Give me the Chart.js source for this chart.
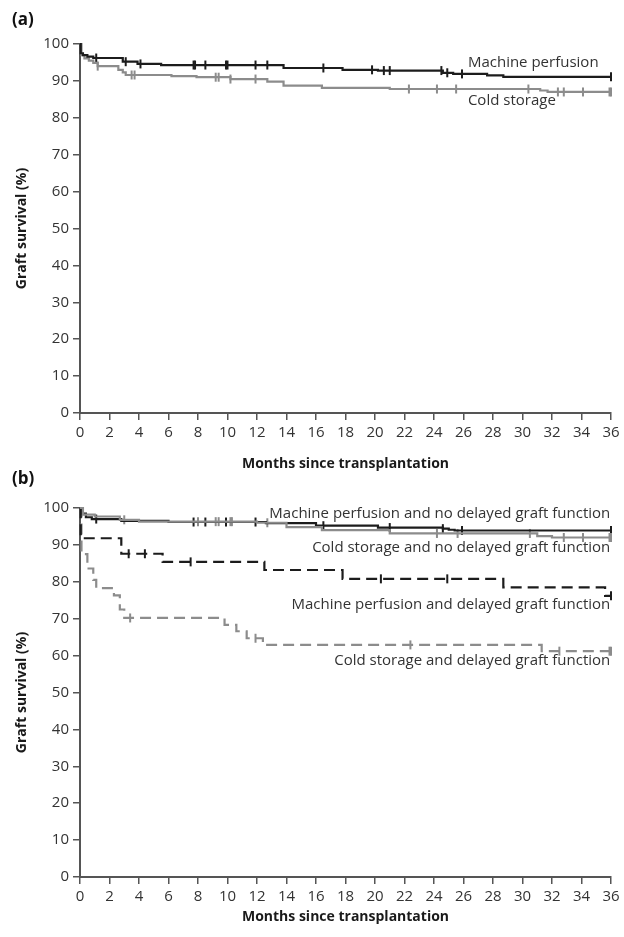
<!DOCTYPE html>
<html><head><meta charset="utf-8">
<script src="https://cdn.jsdelivr.net/npm/chart.js@4.4.1/dist/chart.umd.min.js"></script>
<style>
html,body{margin:0;padding:0;background:#fff;}
#wrap{position:relative;width:624px;height:937px;overflow:hidden;background:#fff}
.box{position:absolute;left:0;width:624px}
.plabel{position:absolute;left:12px;font:bold 17px "Open Sans",sans-serif;color:#111;line-height:20px}
</style></head><body>
<div id="wrap">
<div class="box" style="top:0;height:472px"><canvas id="ca" width="624" height="472"></canvas></div>
<div class="box" style="top:472px;height:465px"><canvas id="cb" width="624" height="465"></canvas></div>
<div class="plabel" style="top:9px">(a)</div>
<div class="plabel" style="top:468px">(b)</div>
</div>
<script>
// ---------- tick labels ----------
const xTickValues = [0,2,4,6,8,10,12,14,16,18,20,22,24,26,28,30,32,34,36];
const yTickValues = [0,10,20,30,40,50,60,70,80,90,100];

// ---------- panel (a) ----------
const mpA_months = [0,0.05,0.2,0.5,0.9,2.9,3.9,5.5,13.8,17.8,20.2,24.6,25.3,27.6,28.7,36];
const mpA_surv   = [100,97.5,97.0,96.6,96.2,95.2,94.6,94.3,93.5,93.0,92.8,92.2,91.9,91.5,91.1,91.1];
const mpA_censor = [1.1,3.1,4.1,7.7,7.8,8.5,9.9,10.0,11.9,12.7,16.5,19.8,20.6,21.0,24.5,24.9,25.9,36];

const csA_months = [0,0.1,0.3,0.6,0.9,1.2,2.6,2.9,3.1,6.2,7.9,10.2,12.7,13.8,16.4,21.0,31.2,31.7,36];
const csA_surv   = [100,97.0,96.1,95.5,94.9,94.0,93.0,92.3,91.6,91.3,91.0,90.5,89.8,88.7,88.1,87.8,87.4,87.0,87.0];
const csA_censor = [1.2,3.5,3.7,9.2,9.4,10.2,11.9,22.3,24.2,25.5,30.4,32.4,32.8,34.1,35.9,36];

const seriesA = ["Machine perfusion","Cold storage"];

// ---------- panel (b) ----------
const mpNo_months = [0,0.1,0.4,0.8,2.8,6.0,12.6,16.0,20.2,24.6,25.0,25.4,36];
const mpNo_surv   = [100,98.5,97.5,97.0,96.5,96.2,95.9,95.2,94.7,94.4,94.1,93.9,93.9];
const mpNo_censor = [1.1,7.7,8.5,9.9,11.9,16.5,21.0,24.6,25.9,36];

const csNo_months = [0,0.2,1.0,2.7,4.0,12.0,14.0,16.4,21.0,31.0,32.0,36];
const csNo_surv   = [100,98.2,97.7,96.8,96.3,96.0,94.8,94.0,93.1,92.4,92.0,92.0];
const csNo_censor = [3.0,8.0,9.2,9.4,10.2,10.3,12.7,24.2,25.6,30.5,32.8,34.1,35.9,36];

const mpD_months = [0,0.05,2.8,5.6,12.5,17.8,28.7,35.6,36];
const mpD_surv   = [100,91.8,87.6,85.4,83.2,80.8,78.5,76.2,76.2];
const mpD_censor = [3.3,4.4,7.5,20.4,24.9,36];

const csD_months = [0,0.1,0.5,0.9,1.1,2.3,2.7,3.0,9.8,10.6,11.3,12.4,31.3,36];
const csD_surv   = [100,87.5,83.6,80.5,78.3,76.3,72.5,70.2,68.3,66.6,64.7,62.9,61.2,61.2];
const csD_censor = [3.4,11.9,22.4,32.5,35.9,36];

const seriesB = ["Machine perfusion and no delayed graft function",
                 "Cold storage and no delayed graft function",
                 "Machine perfusion and delayed graft function",
                 "Cold storage and delayed graft function"];

// ---------- styling ----------
const FONT = '"Open Sans", sans-serif';
const BLACK = '#1c1c1c', GRAY = '#8c8c8c', AXIS = '#555';

function stepPts(t, s){ return t.map((x,i)=>({x:x, y:s[i]})); }
function censorPts(t, s, c){
  return c.map(ct=>{ let v=s[0]; for(let i=0;i<t.length;i++){ if(t[i]<=ct) v=s[i]; } return {x:ct,y:v}; });
}
function curve(t,s,color,dash){
  return {data:stepPts(t,s), showLine:true, stepped:true, borderColor:color, backgroundColor:color,
          borderWidth:2.2, pointRadius:0, borderDash:dash||[], fill:false, clip:false};
}
function marks(t,s,c,color){
  return {data:censorPts(t,s,c), showLine:false, pointStyle:'line', rotation:90, pointRadius:4.5,
          borderColor:color, backgroundColor:color, pointBorderWidth:2, borderWidth:2, clip:false};
}

const txtPlugin = {
  id:'txt',
  afterDatasetsDraw(chart, args, opts){
    const ctx = chart.ctx, xs = chart.scales.x, ys = chart.scales.y;
    ctx.save();
    ctx.font = '15px ' + FONT;
    ctx.fillStyle = '#333';
    ctx.textBaseline = 'middle';
    opts.items.forEach(it=>{
      ctx.textAlign = it.align;
      ctx.fillText(it.text, xs.getPixelForValue(it.x), ys.getPixelForValue(it.y));
    });
    ctx.restore();
  }
};

function makeChart(id, datasets, items, pad, xH){
  return new Chart(document.getElementById(id), {
    type:'scatter',
    data:{datasets:datasets},
    plugins:[txtPlugin],
    options:{
      responsive:false, animation:false,
      layout:{padding:pad},
      plugins:{legend:{display:false}, tooltip:{enabled:false}, txt:{items:items}},
      scales:{
        x:{type:'linear', min:0, max:36,
           afterBuildTicks:s=>{ s.ticks = xTickValues.map(v=>({value:v})); },
           afterFit:s=>{ s.height = xH; },
           grid:{display:true, drawOnChartArea:false, drawTicks:true, tickLength:7, color:AXIS, lineWidth:1.5},
           border:{display:true, color:AXIS, width:2},
           ticks:{color:'#333', font:{family:FONT,size:15}, padding:4, maxRotation:0, autoSkip:false},
           title:{display:true, text:'Months since transplantation', color:'#1a1a1a',
                  font:{family:FONT,size:14,weight:'bold'}, padding:{top:0,bottom:0}}
        },
        y:{type:'linear', min:0, max:100,
           afterBuildTicks:s=>{ s.ticks = yTickValues.map(v=>({value:v})); },
           afterFit:s=>{ s.width = 80; },
           grid:{display:true, drawOnChartArea:false, drawTicks:true, tickLength:7, color:AXIS, lineWidth:1.5},
           border:{display:true, color:AXIS, width:2},
           ticks:{color:'#333', font:{family:FONT,size:15}, padding:4},
           title:{display:true, text:'Graft survival (%)', color:'#1a1a1a',
                  font:{family:FONT,size:14,weight:'bold'}, padding:{top:14,bottom:0}}
        }
      }
    }
  });
}

makeChart('ca', [
  curve(mpA_months, mpA_surv, BLACK),
  curve(csA_months, csA_surv, GRAY),
  marks(mpA_months, mpA_surv, mpA_censor, BLACK),
  marks(csA_months, csA_surv, csA_censor, GRAY)
], [
  {text:seriesA[0], x:26.3, y:94.8, align:'left'},
  {text:seriesA[1], x:26.3, y:84.5, align:'left'}
], {left:0,right:13,top:44,bottom:0}, 59);

makeChart('cb', [
  curve(csNo_months, csNo_surv, GRAY),
  curve(mpNo_months, mpNo_surv, BLACK),
  curve(mpD_months, mpD_surv, BLACK, [11,6]),
  curve(csD_months, csD_surv, GRAY, [11,6]),
  marks(csNo_months, csNo_surv, csNo_censor, GRAY),
  marks(mpNo_months, mpNo_surv, mpNo_censor, BLACK),
  marks(mpD_months, mpD_surv, mpD_censor, BLACK),
  marks(csD_months, csD_surv, csD_censor, GRAY)
], [
  {text:seriesB[0], x:35.95, y:98.4, align:'right'},
  {text:seriesB[1], x:35.95, y:89.2, align:'right'},
  {text:seriesB[2], x:35.95, y:73.7, align:'right'},
  {text:seriesB[3], x:35.95, y:58.5, align:'right'}
], {left:0,right:13,top:36,bottom:12}, 48);
</script>
</body></html>
